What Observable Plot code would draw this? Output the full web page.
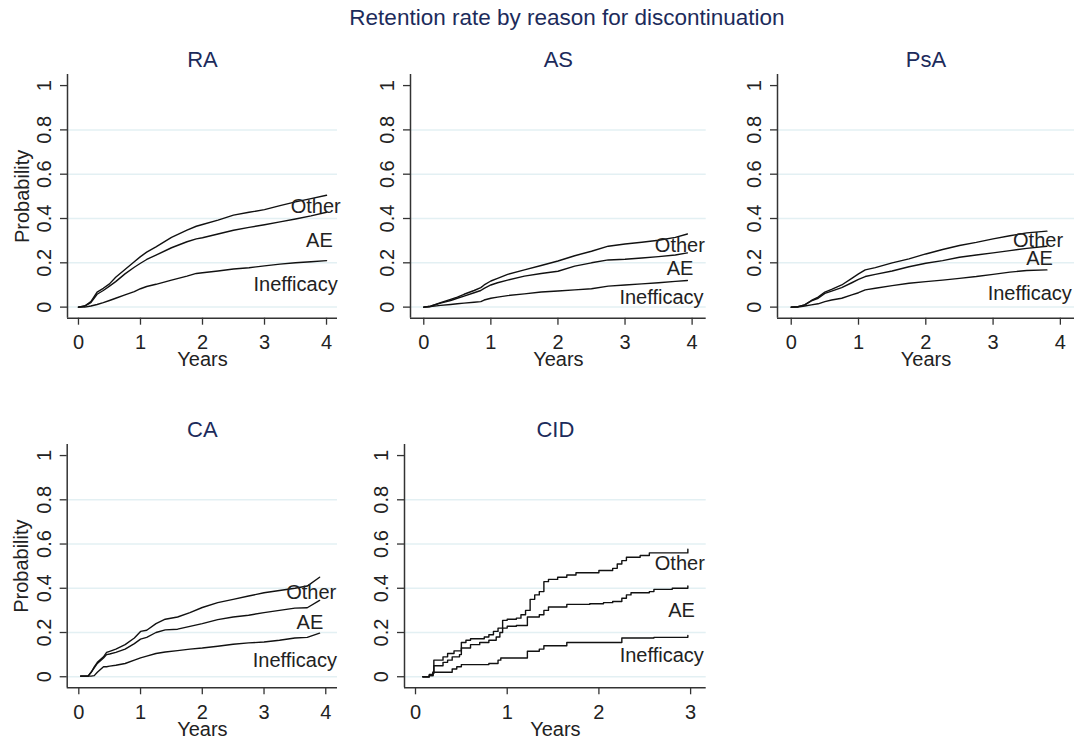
<!DOCTYPE html>
<html><head><meta charset="utf-8">
<script src="https://cdn.jsdelivr.net/npm/d3@7"></script>
<script src="https://cdn.jsdelivr.net/npm/@observablehq/plot@0.6"></script>
<style>
body{margin:0;background:#fff;font-family:"Liberation Sans",Arial,sans-serif;}
#wrap{position:relative;width:1074px;height:739px;overflow:hidden;background:#fff;}
#title{position:absolute;top:7px;left:567px;transform:translateX(-50%);font-size:22.5px;line-height:22px;color:#1c2b5b;white-space:nowrap;}
.panel{position:absolute;}
</style></head><body>
<div id="wrap"><div id="title">Retention rate by reason for discontinuation</div></div>
<script>
// ---------- data ----------
const seriesNames = ["Other", "AE", "Inefficacy"];
const yTicks = [0, 0.2, 0.4, 0.6, 0.8, 1];
const gridTicks = [0, 0.2, 0.4, 0.6, 0.8];
const xTicks4 = [0, 1, 2, 3, 4];
const xTicks3 = [0, 1, 2, 3];

// RA
const raTime  = [0, 0.1, 0.2, 0.3, 0.4, 0.5, 0.6, 0.75, 0.9, 1.0, 1.1, 1.25, 1.5, 1.75, 1.9, 2.0, 2.25, 2.5, 2.75, 3.0, 3.25, 3.5, 3.75, 4.0];
const raOther = [0, 0.005, 0.025, 0.068, 0.085, 0.105, 0.135, 0.17, 0.205, 0.228, 0.248, 0.272, 0.315, 0.348, 0.365, 0.373, 0.393, 0.415, 0.428, 0.44, 0.458, 0.475, 0.49, 0.505];
const raAE    = [0, 0.005, 0.02, 0.058, 0.075, 0.095, 0.115, 0.15, 0.18, 0.198, 0.215, 0.235, 0.268, 0.295, 0.308, 0.313, 0.33, 0.347, 0.36, 0.372, 0.385, 0.398, 0.412, 0.428];
const raIneff = [0, 0, 0.005, 0.012, 0.02, 0.03, 0.04, 0.055, 0.07, 0.083, 0.093, 0.103, 0.122, 0.14, 0.152, 0.155, 0.163, 0.172, 0.178, 0.186, 0.194, 0.2, 0.205, 0.21];

// AS
const asTime  = [0, 0.1, 0.25, 0.4, 0.5, 0.6, 0.75, 0.85, 0.9, 1.0, 1.1, 1.25, 1.5, 1.75, 2.0, 2.25, 2.5, 2.75, 3.0, 3.25, 3.5, 3.75, 3.93];
const asOther = [0, 0.004, 0.02, 0.035, 0.045, 0.058, 0.075, 0.088, 0.1, 0.118, 0.13, 0.148, 0.168, 0.188, 0.208, 0.232, 0.252, 0.275, 0.285, 0.293, 0.302, 0.315, 0.33];
const asAE    = [0, 0.004, 0.018, 0.03, 0.04, 0.05, 0.065, 0.075, 0.085, 0.1, 0.11, 0.122, 0.14, 0.152, 0.162, 0.185, 0.2, 0.213, 0.216, 0.222, 0.228, 0.235, 0.245];
const asIneff = [0, 0.002, 0.008, 0.012, 0.015, 0.018, 0.022, 0.025, 0.032, 0.04, 0.045, 0.052, 0.06, 0.068, 0.073, 0.078, 0.083, 0.095, 0.1, 0.105, 0.11, 0.116, 0.12];

// PsA
const psaTime  = [0, 0.1, 0.2, 0.3, 0.4, 0.5, 0.6, 0.75, 0.9, 1.0, 1.1, 1.25, 1.5, 1.75, 2.0, 2.25, 2.5, 2.75, 3.0, 3.25, 3.5, 3.8];
const psaOther = [0, 0.002, 0.01, 0.03, 0.045, 0.068, 0.08, 0.1, 0.13, 0.15, 0.168, 0.178, 0.2, 0.218, 0.24, 0.26, 0.278, 0.292, 0.308, 0.322, 0.335, 0.343];
const psaAE    = [0, 0.002, 0.01, 0.028, 0.04, 0.062, 0.072, 0.088, 0.11, 0.125, 0.138, 0.148, 0.163, 0.182, 0.198, 0.21, 0.225, 0.235, 0.245, 0.255, 0.265, 0.275];
const psaIneff = [0, 0, 0.005, 0.01, 0.015, 0.025, 0.032, 0.04, 0.055, 0.065, 0.078, 0.085, 0.097, 0.108, 0.115, 0.122, 0.13, 0.138, 0.148, 0.158, 0.165, 0.168];

// CA
const caTime  = [0.03, 0.15, 0.2, 0.25, 0.3, 0.4, 0.45, 0.5, 0.6, 0.75, 0.9, 1.0, 1.1, 1.25, 1.4, 1.6, 1.8, 2.0, 2.25, 2.5, 2.75, 3.0, 3.25, 3.5, 3.7, 3.9];
const caOther = [0.003, 0.003, 0.02, 0.045, 0.065, 0.09, 0.11, 0.115, 0.125, 0.145, 0.175, 0.205, 0.21, 0.24, 0.26, 0.27, 0.29, 0.313, 0.335, 0.35, 0.365, 0.38, 0.39, 0.4, 0.41, 0.45];
const caAE    = [0.003, 0.003, 0.02, 0.04, 0.06, 0.085, 0.1, 0.103, 0.11, 0.125, 0.15, 0.17, 0.178, 0.2, 0.212, 0.215, 0.228, 0.24, 0.258, 0.27, 0.278, 0.29, 0.3, 0.31, 0.312, 0.345];
const caIneff = [0.003, 0.003, 0.003, 0.005, 0.02, 0.045, 0.045, 0.048, 0.052, 0.06, 0.075, 0.085, 0.093, 0.105, 0.112, 0.118, 0.125, 0.13, 0.138, 0.147, 0.153, 0.157, 0.165, 0.175, 0.178, 0.197];

// CID (step functions)
const cidOtherTime = [0.08, 0.15, 0.19, 0.2, 0.3, 0.35, 0.42, 0.5, 0.55, 0.6, 0.75, 0.8, 0.85, 0.9, 0.95, 1.0, 1.1, 1.15, 1.2, 1.25, 1.3, 1.35, 1.4, 1.45, 1.55, 1.65, 1.75, 2.0, 2.15, 2.2, 2.25, 2.3, 2.45, 2.55, 2.97];
const cidOther     = [0, 0.01, 0.02, 0.075, 0.09, 0.105, 0.117, 0.155, 0.165, 0.172, 0.18, 0.19, 0.205, 0.22, 0.255, 0.26, 0.265, 0.28, 0.3, 0.35, 0.37, 0.385, 0.43, 0.44, 0.45, 0.46, 0.47, 0.48, 0.49, 0.51, 0.525, 0.54, 0.548, 0.56, 0.577];
const cidAETime = [0.08, 0.15, 0.19, 0.2, 0.3, 0.35, 0.4, 0.48, 0.5, 0.6, 0.7, 0.8, 0.88, 0.92, 0.95, 1.0, 1.1, 1.22, 1.35, 1.4, 1.45, 1.65, 1.9, 2.05, 2.15, 2.25, 2.3, 2.35, 2.55, 2.6, 2.8, 2.97];
const cidAE     = [0, 0.005, 0.015, 0.05, 0.065, 0.075, 0.09, 0.1, 0.13, 0.145, 0.155, 0.165, 0.18, 0.2, 0.22, 0.228, 0.232, 0.27, 0.28, 0.3, 0.315, 0.327, 0.33, 0.335, 0.34, 0.355, 0.37, 0.38, 0.385, 0.395, 0.4, 0.41];
const cidIneffTime = [0.08, 0.15, 0.19, 0.4, 0.45, 0.5, 0.8, 0.9, 0.93, 1.22, 1.35, 1.4, 1.65, 2.25, 2.6, 2.97];
const cidIneff     = [0, 0.005, 0.02, 0.035, 0.045, 0.055, 0.06, 0.075, 0.085, 0.115, 0.125, 0.14, 0.155, 0.175, 0.178, 0.187];

// ---------- annotation placement (data units) ----------
const labelSpots = {
  RA:  {x: [4.23, 4.10, 4.18], y: [0.454, 0.302, 0.0995]},
  AS:  {x: [4.19, 4.02, 4.17], y: [0.278, 0.174, 0.045]},
  PsA: {x: [4.04, 3.89, 4.17], y: [0.300, 0.217, 0.061]},
  CA:  {x: [4.17, 3.96, 4.18], y: [0.379, 0.245, 0.0745]},
  CID: {x: [3.155, 3.046, 3.144], y: [0.511, 0.300, 0.097]}
};

// ---------- layout ----------
const panelsCfg = [
  {name: "RA",  left: 0,   top: 40,  width: 345, height: 340, mL: 67,   mR: 8,   mT: 34, mB: 62.3, xDomain: [-0.177, 4.177], xTicks: xTicks4, yLabel: true,
   series: [[raTime, raOther], [raTime, raAE], [raTime, raIneff]], curve: "linear"},
  {name: "AS",  left: 360, top: 40,  width: 350, height: 340, mL: 50,   mR: 4.3, mT: 34, mB: 62.3, xDomain: [-0.198, 4.21], xTicks: xTicks4, yLabel: false,
   series: [[asTime, asOther], [asTime, asAE], [asTime, asIneff]], curve: "linear"},
  {name: "PsA", left: 720, top: 40,  width: 354, height: 340, mL: 57,   mR: 0,   mT: 34, mB: 62.3, xDomain: [-0.204, 4.21], xTicks: xTicks4, yLabel: false,
   series: [[psaTime, psaOther], [psaTime, psaAE], [psaTime, psaIneff]], curve: "linear"},
  {name: "CA",  left: 0,   top: 410, width: 345, height: 329, mL: 66.7, mR: 8,   mT: 34, mB: 51.7, xDomain: [-0.188, 4.19], xTicks: xTicks4, yLabel: true,
   series: [[caTime, caOther], [caTime, caAE], [caTime, caIneff]], curve: "linear"},
  {name: "CID", left: 360, top: 410, width: 350, height: 329, mL: 44,   mR: 4.3, mT: 34, mB: 51.7, xDomain: [-0.12, 3.17], xTicks: xTicks3, yLabel: false,
   series: [[cidOtherTime, cidOther], [cidAETime, cidAE], [cidIneffTime, cidIneff]], curve: "step-after"}
];

const yDomain = [-0.05, 1.05];
const navy = "#1c2b5b";
const axisColor = "#333";
const wrap = document.getElementById("wrap");

for (const cfg of panelsCfg) {
  const rows = [];
  cfg.series.forEach(([tt, pp], i) => {
    tt.forEach((t, j) => rows.push({series: seriesNames[i], t, p: pp[j]}));
  });
  const spots = labelSpots[cfg.name];
  const labels = seriesNames.map((s, i) => ({text: s, x: spots.x[i], y: spots.y[i]}));

  const marks = [
    Plot.gridY(gridTicks, {stroke: "#e3f0f3", strokeOpacity: 1, strokeWidth: 1.5}),
    Plot.ruleX([cfg.xDomain[0]], {stroke: axisColor, strokeWidth: 1.5}),
    Plot.ruleY([yDomain[0]], {stroke: axisColor, strokeWidth: 1.5}),
    Plot.axisX({ticks: cfg.xTicks, tickSize: 7, tickPadding: 10, stroke: axisColor, strokeWidth: 1.3, fill: "#222", fontSize: 20, tickFormat: d => String(d), label: null}),
    Plot.axisY({ticks: yTicks, tickSize: 7, tickPadding: 9.3, tickRotate: -90, textAnchor: "middle", lineAnchor: "bottom", stroke: axisColor, strokeWidth: 1.3, fill: "#222", fontSize: 20, tickFormat: d => String(d), label: null}),
    Plot.line(rows, {x: "t", y: "p", z: "series", curve: cfg.curve, stroke: "#111", strokeWidth: 1.4}),
    Plot.text(labels, {x: "x", y: "y", text: "text", textAnchor: "end", lineAnchor: "middle", fill: "#222", fontSize: 20}),
    Plot.text([cfg.name], {text: d => d, frameAnchor: "top", lineAnchor: "bottom", dy: -7.5, fill: navy, fontSize: 22}),
    Plot.text(["Years"], {text: d => d, frameAnchor: "bottom", lineAnchor: "top", dy: 34, fill: "#222", fontSize: 20})
  ];
  if (cfg.yLabel) {
    marks.push(Plot.text(["Probability"], {text: d => d, frameAnchor: "left", rotate: -90, textAnchor: "middle", lineAnchor: "bottom", dx: -39, fill: "#222", fontSize: 20}));
  }

  const chart = Plot.plot({
    width: cfg.width,
    height: cfg.height,
    marginLeft: cfg.mL,
    marginRight: cfg.mR,
    marginTop: cfg.mT,
    marginBottom: cfg.mB,
    x: {domain: cfg.xDomain},
    y: {domain: yDomain},
    style: {fontFamily: "'Liberation Sans', Arial, sans-serif", fontSize: "20px", background: "transparent", overflow: "visible", color: "#222"},
    marks
  });
  chart.classList.add("panel");
  chart.style.left = cfg.left + "px";
  chart.style.top = cfg.top + "px";
  chart.style.position = "absolute";
  wrap.appendChild(chart);
}
</script>
</body></html>
